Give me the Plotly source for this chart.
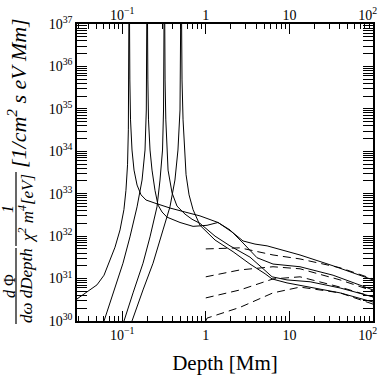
import plotly.graph_objects as go

# Depth [Mm] and flux values (solid = full, dashed = approx.)
# left branches, rising into the resonance
l1_depth = [0.0288, 0.0413, 0.050, 0.0607, 0.0716, 0.0822, 0.0943, 0.105, 0.111, 0.116, 0.1186, 0.1202, 0.1208, 0.1210]
l1_flux = [3.3e30, 5.4e30, 7.1e30, 1.2e31, 2.7e31, 5.5e31, 1.4e32, 4.2e32, 1.2e33, 4.8e33, 3.2e34, 4.8e35, 1e37, 1e38]

l2_depth = [0.0585, 0.0607, 0.0778, 0.1023, 0.124, 0.1507, 0.173, 0.1877, 0.1945, 0.197, 0.198, 0.1982]
l2_flux = [8e29, 1e30, 4.6e30, 2.3e31, 9.6e31, 4.9e32, 2.1e33, 1.07e34, 9.4e34, 1.4e36, 1e37, 1e38]

l3_depth = [0.102, 0.1052, 0.135, 0.1776, 0.2153, 0.261, 0.2836, 0.304, 0.3126, 0.317, 0.3186, 0.3188]
l3_flux = [8e29, 1e30, 4.6e30, 2.3e31, 9.6e31, 4.9e32, 2.1e33, 1.07e34, 9.4e34, 1.4e36, 1e37, 1e38]

l4_depth = [0.128, 0.1312, 0.1776, 0.234, 0.308, 0.373, 0.428, 0.465, 0.492, 0.501, 0.505, 0.5052]
l4_flux = [8e29, 1e30, 5.4e30, 2.3e31, 1.4e32, 4.9e32, 2.1e33, 1.07e34, 9.4e34, 1.4e36, 1e37, 1e38]

# right branches, falling out of the resonance
r1_depth = [0.1218, 0.1220, 0.1236, 0.1259, 0.1312, 0.1387, 0.1507, 0.1682, 0.193, 0.247, 0.373, 0.565,
            0.853, 1.40, 2.12, 2.79, 3.88, 5.41, 8.87, 13.4, 33.3, 100]
r1_flux = [1e38, 1e37, 4.8e35, 5.5e34, 1.07e34, 3.6e33, 1.6e33, 9.4e32, 7.1e32, 6.0e32, 4.6e32, 3.7e32,
           3.0e32, 2.1e32, 1.2e32, 7.7e31, 6.5e31, 5.9e31, 4.5e31, 3.6e31, 2.0e31, 9.3e30]

r2_depth = [0.1998, 0.200, 0.203, 0.2066, 0.2155, 0.2276, 0.247, 0.2686, 0.300, 0.344, 0.492, 0.705,
            1.035, 1.40, 1.95, 2.79, 4.10, 6.37, 13.4, 33.3, 100]
r2_flux = [1e38, 1e37, 4.8e35, 5.5e34, 1.07e34, 3.6e33, 1.2e33, 5.4e32, 3.7e32, 2.8e32, 2.1e32, 1.7e32,
           1.8e32, 2.1e32, 1.4e32, 6.9e31, 3.1e31, 2.2e31, 1.9e31, 1.2e31, 5.4e30]

r3_depth = [0.3211, 0.3213, 0.326, 0.3328, 0.344, 0.354, 0.395, 0.453, 0.565, 0.685, 0.853, 1.29,
            1.95, 3.38, 4.71, 6.21, 9.37, 17.7, 40.4, 100]
r3_flux = [1e38, 1e37, 4.8e35, 5.5e34, 1.07e34, 3.6e33, 1.05e33, 5.1e32, 3.3e32, 2.5e32, 2.0e32, 1.0e32,
           5.9e31, 3.2e31, 1.8e31, 1.1e31, 9.3e30, 8.4e30, 6.0e30, 3.7e30]

r4_depth = [0.5098, 0.510, 0.520, 0.535, 0.557, 0.581, 0.631, 0.705, 0.853, 1.29, 2.12, 3.38,
            5.12, 6.21, 9.37, 17.7, 40.4, 100]
r4_flux = [1e38, 1e37, 4.8e35, 5.5e34, 1.07e34, 2.8e33, 9.4e32, 4.2e32, 1.8e32, 8.1e31, 4.3e31, 2.2e31,
           1.3e31, 9.8e30, 7.9e30, 6.3e30, 4.6e30, 2.8e30]

# dashed curves (start at 1 Mm)
d1_depth = [1.0, 2.57, 6.37, 13.4, 40.4, 100]
d1_flux = [5.0e31, 5.3e31, 3.6e31, 2.9e31, 1.8e31, 9.8e30]
d2_depth = [1.0, 2.57, 6.37, 13.4, 40.4, 100]
d2_flux = [1.1e31, 1.6e31, 1.9e31, 1.7e31, 9.3e30, 5.1e30]
d3_depth = [1.0, 2.57, 6.37, 13.4, 40.4, 100]
d3_flux = [3.5e30, 5.4e30, 9.8e30, 1.1e31, 6.3e30, 3.7e30]
d4_depth = [1.0, 1.035, 2.57, 6.37, 13.4, 40.4, 100]
d4_flux = [1e30, 1.17e30, 2.1e30, 4.6e30, 6.3e30, 4.6e30, 2.5e30]

x_ticks = [0.1, 1, 10, 100]
# trailing spaces pull the last label left so it stays inside the page
x_ticktext = ["10<sup>\u22121</sup>", "1", "10", "10<sup>2</sup>&nbsp;&nbsp;&nbsp;"]
y_ticks = [1e30, 1e31, 1e32, 1e33, 1e34, 1e35, 1e36, 1e37]
y_ticktext = ["10<sup>%d</sup>" % e for e in range(30, 38)]

SERIF = "Liberation Serif"

fig = go.Figure()

solid = [(l1_depth, l1_flux), (l2_depth, l2_flux), (l3_depth, l3_flux), (l4_depth, l4_flux),
         (r1_depth, r1_flux), (r2_depth, r2_flux), (r3_depth, r3_flux), (r4_depth, r4_flux)]
for xs, ys in solid:
    fig.add_trace(go.Scatter(x=xs, y=ys, mode="lines", line=dict(color="black", width=1),
                             showlegend=False, hoverinfo="skip"))

dashed = [(d1_depth, d1_flux), (d2_depth, d2_flux), (d3_depth, d3_flux), (d4_depth, d4_flux)]
for xs, ys in dashed:
    fig.add_trace(go.Scatter(x=xs, y=ys, mode="lines", line=dict(color="black", width=1, dash="8px,5px"),
                             showlegend=False, hoverinfo="skip"))

# invisible trace so the top axis gets drawn
fig.add_trace(go.Scatter(x=[1], y=[1e33], xaxis="x2", mode="markers", marker=dict(opacity=0),
                         showlegend=False, hoverinfo="skip"))

axis_common = dict(showgrid=False, zeroline=False, showline=True, linecolor="black", linewidth=1.5,
                   ticks="inside", ticklen=10, tickwidth=1, tickcolor="black", automargin=False,
                   ticklabeloverflow="allow",
                   tickfont=dict(family=SERIF, size=14, color="black"))

fig.update_layout(
    template="none",
    width=379, height=379,
    margin=dict(l=77, r=6, t=24, b=58),
    paper_bgcolor="white", plot_bgcolor="white",
    xaxis=dict(type="log", range=[-1.54, 2], tickvals=x_ticks, ticktext=x_ticktext, mirror="allticks",
               minor=dict(ticks="inside", ticklen=5, tickcolor="black", dtick="D1", showgrid=False),
               title=dict(text="Depth [Mm]", font=dict(family=SERIF, size=21, color="black"), standoff=14),
               **axis_common),
    xaxis2=dict(type="log", range=[-1.54, 2], tickvals=x_ticks, ticktext=x_ticktext, overlaying="x",
                side="top", showgrid=False, zeroline=False, showline=False, ticks="", automargin=False,
                ticklabeloverflow="allow",
                tickfont=dict(family=SERIF, size=14, color="black")),
    yaxis=dict(type="log", range=[30, 37], tickvals=y_ticks, ticktext=y_ticktext, mirror="allticks",
               minor=dict(ticks="inside", ticklen=5, tickcolor="black", dtick="D1", showgrid=False),
               **axis_common),
)

# y-axis label, built from pieces since there is no LaTeX offline
def px_x(p):
    return (p - 77) / 296.0

def px_y(p):
    return (321 - p) / 297.0

pieces = [
    ("<i>d</i> \u03a6", 9, 286, 16),
    ("<i>d\u03c9 dDepth</i>", 26, 286, 17),
    ("<i>1</i>", 8, 209, 16),
    ("<i>\u03c7<sup>2</sup> m<sup>4</sup>[eV]</i>", 26, 209, 17),
    ("<i>[1/cm<sup>2</sup> s eV Mm]</i>", 17, 93, 22),
]
for txt, x, y, size in pieces:
    fig.add_annotation(text=txt, xref="paper", yref="paper", x=px_x(x), y=px_y(y),
                       xanchor="center", yanchor="middle", textangle=-90, showarrow=False,
                       font=dict(family=SERIF, size=size, color="black"))

# fraction bars
fig.add_shape(type="line", xref="paper", yref="paper", x0=px_x(16), x1=px_x(16),
              y0=px_y(324), y1=px_y(248), line=dict(color="black", width=1.2))
fig.add_shape(type="line", xref="paper", yref="paper", x0=px_x(16), x1=px_x(16),
              y0=px_y(246), y1=px_y(172), line=dict(color="black", width=1.2))

# page body has a default margin; remove it so the chart sits at the window corner
fig.write_html("out.html", config={"displayModeBar": False},
               post_script="document.body.style.margin='0';")
